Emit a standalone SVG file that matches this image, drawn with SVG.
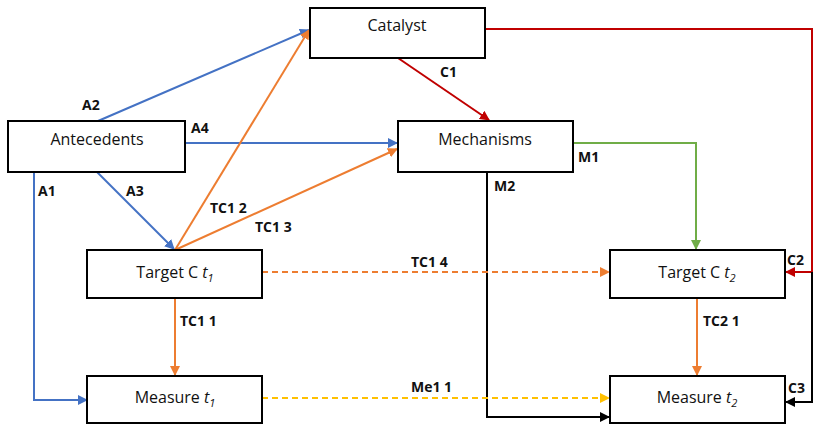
<svg xmlns="http://www.w3.org/2000/svg" width="830" height="430" viewBox="0 0 830 430">
<defs>
<style>
.b{fill:#fff;stroke:#000;stroke-width:2}
.t{font-family:"Open Sans","Liberation Sans",sans-serif;font-size:16px;fill:#111;text-anchor:middle}
.l{font-family:"Open Sans","Liberation Sans",sans-serif;font-size:14px;font-weight:bold;fill:#111}
.c{fill:none;stroke-width:2}
</style>
<marker id="mb" viewBox="0 0 10 10" refX="9" refY="5" markerWidth="5" markerHeight="5" orient="auto"><path d="M0,0L10,5L0,10z" fill="#4472c4"/></marker>
<marker id="mo" viewBox="0 0 10 10" refX="9" refY="5" markerWidth="5" markerHeight="5" orient="auto"><path d="M0,0L10,5L0,10z" fill="#ed7d31"/></marker>
<marker id="mr" viewBox="0 0 10 10" refX="9" refY="5" markerWidth="5" markerHeight="5" orient="auto"><path d="M0,0L10,5L0,10z" fill="#c00000"/></marker>
<marker id="mg" viewBox="0 0 10 10" refX="9" refY="5" markerWidth="5" markerHeight="5" orient="auto"><path d="M0,0L10,5L0,10z" fill="#70ad47"/></marker>
<marker id="mk" viewBox="0 0 10 10" refX="9" refY="5" markerWidth="5" markerHeight="5" orient="auto"><path d="M0,0L10,5L0,10z" fill="#000"/></marker>
<marker id="my" viewBox="0 0 10 10" refX="9" refY="5" markerWidth="5" markerHeight="5" orient="auto"><path d="M0,0L10,5L0,10z" fill="#ffc000"/></marker>
</defs>
<g id="connectors">
<path class="c" stroke="#4472c4" marker-end="url(#mb)" d="M98,121L309,30"/>
<path class="c" stroke="#4472c4" marker-end="url(#mb)" d="M185,143L397,143"/>
<path class="c" stroke="#4472c4" marker-end="url(#mb)" d="M97,172L174,249"/>
<path class="c" stroke="#4472c4" marker-end="url(#mb)" d="M34,173V400H87"/>
<path class="c" stroke="#ed7d31" marker-end="url(#mo)" d="M175,250L309,30"/>
<path class="c" stroke="#ed7d31" marker-end="url(#mo)" d="M175,250L397,149"/>
<path class="c" stroke="#c00000" marker-end="url(#mr)" d="M398,58L489,120"/>
<path class="c" stroke="#c00000" marker-end="url(#mr)" d="M485,29H812V272H786"/>
<path class="c" stroke="#70ad47" marker-end="url(#mg)" d="M573,143H696V249"/>
<path class="c" stroke="#000" marker-end="url(#mk)" d="M487,172V417H609"/>
<path class="c" stroke="#000" marker-end="url(#mk)" d="M812,272V402H786"/>
<path class="c" stroke="#ed7d31" stroke-dasharray="6,4" marker-end="url(#mo)" d="M262,272H609"/>
<path class="c" stroke="#ed7d31" marker-end="url(#mo)" d="M175,298V375"/>
<path class="c" stroke="#ed7d31" marker-end="url(#mo)" d="M697,298V375"/>
<path class="c" stroke="#ffc000" stroke-dasharray="6,4" marker-end="url(#my)" d="M262,398H609"/>
<text class="l" x="82" y="110">A2</text>
<text class="l" x="191" y="133">A4</text>
<text class="l" x="126" y="196">A3</text>
<text class="l" x="38" y="196">A1</text>
<text class="l" x="210" y="213">TC1 2</text>
<text class="l" x="255" y="232">TC1 3</text>
<text class="l" x="440" y="77">C1</text>
<text class="l" x="787" y="265">C2</text>
<text class="l" x="788" y="393">C3</text>
<text class="l" x="578" y="162">M1</text>
<text class="l" x="494" y="191">M2</text>
<text class="l" x="411" y="267">TC1 4</text>
<text class="l" x="180" y="326">TC1 1</text>
<text class="l" x="703" y="326">TC2 1</text>
<text class="l" x="411" y="392">Me1 1</text>
</g>
<g id="catalyst"><rect class="b" x="310" y="8" width="175" height="50"/><text class="t" x="397" y="31">Catalyst</text></g>
<g id="antecedents"><rect class="b" x="8" y="121" width="177" height="51"/><text class="t" x="97" y="145">Antecedents</text></g>
<g id="mechanisms"><rect class="b" x="398" y="121" width="175" height="51"/><text class="t" x="485" y="145">Mechanisms</text></g>
<g id="target1"><rect class="b" x="87" y="250" width="175" height="48"/><text class="t" x="175" y="278">Target C <tspan font-style="italic">t</tspan><tspan font-style="italic" font-size="11" dy="4">1</tspan></text></g>
<g id="target2"><rect class="b" x="610" y="250" width="175" height="48"/><text class="t" x="697" y="278">Target C <tspan font-style="italic">t</tspan><tspan font-style="italic" font-size="11" dy="4">2</tspan></text></g>
<g id="measure1"><rect class="b" x="87" y="376" width="175" height="47"/><text class="t" x="175" y="403">Measure <tspan font-style="italic">t</tspan><tspan font-style="italic" font-size="11" dy="4">1</tspan></text></g>
<g id="measure2"><rect class="b" x="610" y="376" width="175" height="47"/><text class="t" x="697" y="403">Measure  <tspan font-style="italic">t</tspan><tspan font-style="italic" font-size="11" dy="4">2</tspan></text></g>
</svg>
